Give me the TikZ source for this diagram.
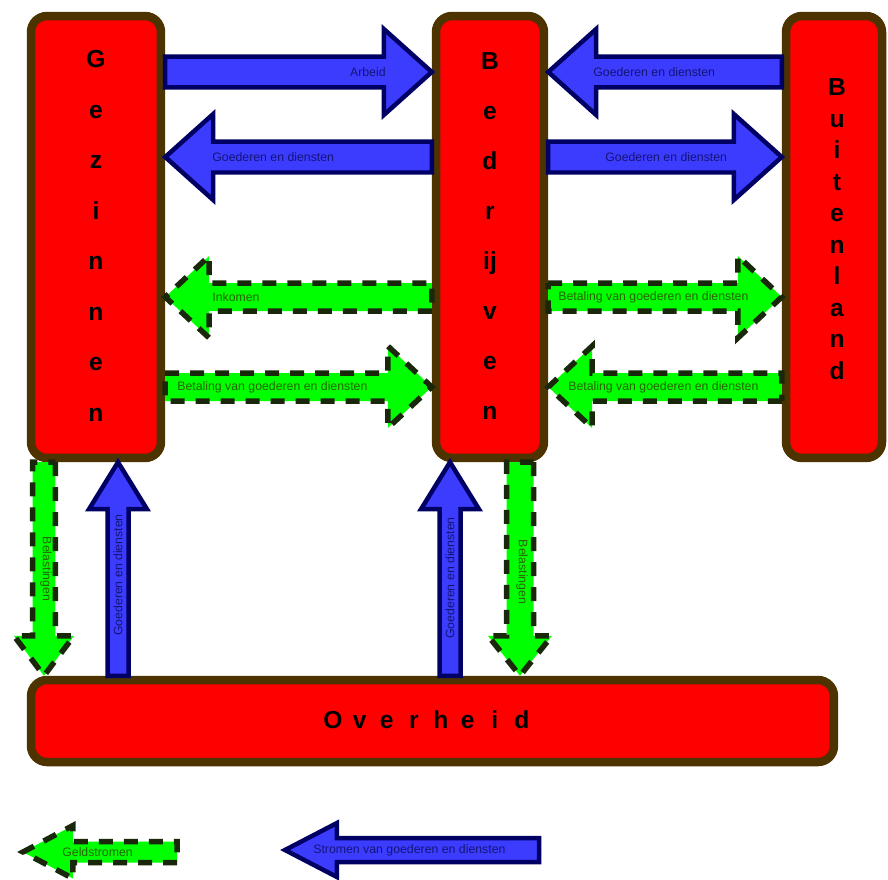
\documentclass[tikz,border=0pt]{standalone}
\usepackage{fontspec}
\setmainfont{Liberation Sans}
\usetikzlibrary{calc}

\definecolor{boxred}{RGB}{255,0,0}
\definecolor{boxborder}{RGB}{77,51,0}
\definecolor{goodsfill}{RGB}{60,60,255}
\definecolor{goodsborder}{RGB}{0,0,100}
\definecolor{goodstext}{RGB}{20,20,120}
\definecolor{moneyfill}{RGB}{0,255,0}
\definecolor{moneydash}{RGB}{25,40,10}
\definecolor{moneytext}{RGB}{40,100,0}

\tikzset{
  box/.style={draw=boxborder, fill=boxred, line width=0.17cm, rounded corners=0.32cm},
  goods/.style={draw=goodsborder, fill=goodsfill, line width=0.09cm},
  money/.style={draw=moneydash, fill=moneyfill, line width=0.11cm, dash pattern=on 0.28cm off 0.22cm},
  goodslabel/.style={text=goodstext, font=\fontsize{7}{8}\selectfont, inner sep=0pt},
  moneylabel/.style={text=moneytext, font=\fontsize{7}{8}\selectfont, inner sep=0pt},
  letter/.style={font=\fontsize{14}{16}\selectfont\bfseries, anchor=base, inner sep=0pt}
}

% block arrow: style, from, to, shaft half width, head half width, head length
\newcommand{\flowarrow}[6]{%
  \coordinate (hb) at ($(#3)!#6!(#2)$);
  \draw[#1] ($(#2)!#4!90:(#3)$) -- ($(hb)!#4!90:(#3)$) -- ($(hb)!#5!90:(#3)$) -- (#3)
    -- ($(hb)!#5!-90:(#3)$) -- ($(hb)!#4!-90:(#3)$) -- ($(#2)!#4!-90:(#3)$) -- cycle;
}

\begin{document}
\begin{tikzpicture}[x=0.02cm, y=-0.02cm]
  \useasboundingbox (0,0) rectangle (888,879);

  % Sectors
  \node[box, minimum width=2.6cm, minimum height=8.84cm] (gez) at (96,237) {};
  \node[box, minimum width=2.16cm, minimum height=8.84cm] (bed) at (490,237) {};
  \node[box, minimum width=1.92cm, minimum height=8.84cm] (buit) at (834,237) {};
  \node[box, minimum width=16.06cm, minimum height=1.64cm] (ovh) at (432.5,721) {};

  % Sector names, one letter at a time
  \foreach \l [count=\i] in {G,e,z,i,n,n,e,n}
    \node[letter] (gez-\i) at ($(gez.north)+(0,{56+50.5*(\i-1)})$) {\l};
  \foreach \l [count=\i] in {B,e,d,r,ij,v,e,n}
    \node[letter] (bed-\i) at ($(bed.north)+(0,{58+50*(\i-1)})$) {\l};
  \foreach \l [count=\i] in {B,u,i,t,e,n,l,a,n,d}
    \node[letter] (buit-\i) at ($(buit.north)+(3,{84+31.5*(\i-1)})$) {\l};
  \foreach \l [count=\i] in {O,v,e,r,h,e,i,d}
    \node[letter] (ovh-\i) at ($(ovh.west)+({306+27*(\i-1)},7)$) {\l};

  % Goods and services (blue)
  \coordinate (arb-s) at (gez.east |- 0,72);
  \coordinate (arb-e) at (bed.west |- 0,72);
  \flowarrow{goods}{arb-s}{arb-e}{0.31cm}{0.86cm}{0.96cm}
  \node[goodslabel, anchor=east] (arb-l) at (386,72) {Arbeid};

  \coordinate (gd1-s) at (bed.west |- 0,157);
  \coordinate (gd1-e) at (gez.east |- 0,157);
  \flowarrow{goods}{gd1-s}{gd1-e}{0.31cm}{0.86cm}{0.96cm}
  \node[goodslabel, anchor=west] (gd1-l) at (212,157) {Goederen en diensten};

  \coordinate (gd2-s) at (buit.west |- 0,72);
  \coordinate (gd2-e) at (bed.east |- 0,72);
  \flowarrow{goods}{gd2-s}{gd2-e}{0.31cm}{0.86cm}{0.96cm}
  \node[goodslabel, anchor=west] (gd2-l) at (593,72) {Goederen en diensten};

  \coordinate (gd3-s) at (bed.east |- 0,157);
  \coordinate (gd3-e) at (buit.west |- 0,157);
  \flowarrow{goods}{gd3-s}{gd3-e}{0.31cm}{0.86cm}{0.96cm}
  \node[goodslabel, anchor=west] (gd3-l) at (605,157) {Goederen en diensten};

  % Money flows (green)
  \coordinate (ink-s) at (bed.west |- 0,297);
  \coordinate (ink-e) at (gez.east |- 0,297);
  \flowarrow{money}{ink-s}{ink-e}{0.28cm}{0.82cm}{0.88cm}
  \node[moneylabel, anchor=west] (ink-l) at (212,297) {Inkomen};

  \coordinate (bet1-s) at (gez.east |- 0,387);
  \coordinate (bet1-e) at (bed.west |- 0,387);
  \flowarrow{money}{bet1-s}{bet1-e}{0.28cm}{0.82cm}{0.88cm}
  \node[moneylabel, anchor=west] (bet1-l) at (177,387) {Betaling van goederen en diensten};

  \coordinate (bet2-s) at (bed.east |- 0,297);
  \coordinate (bet2-e) at (buit.west |- 0,297);
  \flowarrow{money}{bet2-s}{bet2-e}{0.28cm}{0.82cm}{0.88cm}
  \node[moneylabel, anchor=west] (bet2-l) at (558,297) {Betaling van goederen en diensten};

  \coordinate (bet3-s) at (buit.west |- 0,387);
  \coordinate (bet3-e) at (bed.east |- 0,387);
  \flowarrow{money}{bet3-s}{bet3-e}{0.28cm}{0.82cm}{0.88cm}
  \node[moneylabel, anchor=west] (bet3-l) at (568,387) {Betaling van goederen en diensten};

  % Government
  \coordinate (bel1-s) at (gez.south -| 44,0);
  \coordinate (bel1-e) at (ovh.north -| 44,0);
  \flowarrow{money}{bel1-s}{bel1-e}{0.23cm}{0.6cm}{0.8cm}
  \node[moneylabel, rotate=-90] (bel1-l) at (46,569) {Belastingen};

  \coordinate (ov1-s) at (ovh.north -| 118,0);
  \coordinate (ov1-e) at (gez.south -| 118,0);
  \flowarrow{goods}{ov1-s}{ov1-e}{0.21cm}{0.58cm}{0.94cm}
  \node[goodslabel, rotate=90] (ov1-l) at (118,575) {Goederen en diensten};

  \coordinate (ov2-s) at (ovh.north -| 450,0);
  \coordinate (ov2-e) at (bed.south -| 450,0);
  \flowarrow{goods}{ov2-s}{ov2-e}{0.21cm}{0.58cm}{0.94cm}
  \node[goodslabel, rotate=90] (ov2-l) at (450,578) {Goederen en diensten};

  \coordinate (bel2-s) at (bed.south -| 520,0);
  \coordinate (bel2-e) at (ovh.north -| 520,0);
  \flowarrow{money}{bel2-s}{bel2-e}{0.27cm}{0.64cm}{0.8cm}
  \node[moneylabel, rotate=-90] (bel2-l) at (522,572) {Belastingen};

  % Legend
  \coordinate (leg1-s) at (177,852);
  \coordinate (leg1-e) at (23,852);
  \flowarrow{money}{leg1-s}{leg1-e}{0.21cm}{0.53cm}{1.0cm}
  \node[moneylabel, anchor=west] (leg1-l) at (62,852) {Geldstromen};

  \coordinate (leg2-s) at (539,850);
  \coordinate (leg2-e) at (285,850);
  \flowarrow{goods}{leg2-s}{leg2-e}{0.24cm}{0.54cm}{1.04cm}
  \node[goodslabel, anchor=west] (leg2-l) at (313,850) {Stromen van goederen en diensten};
\end{tikzpicture}
\end{document}
